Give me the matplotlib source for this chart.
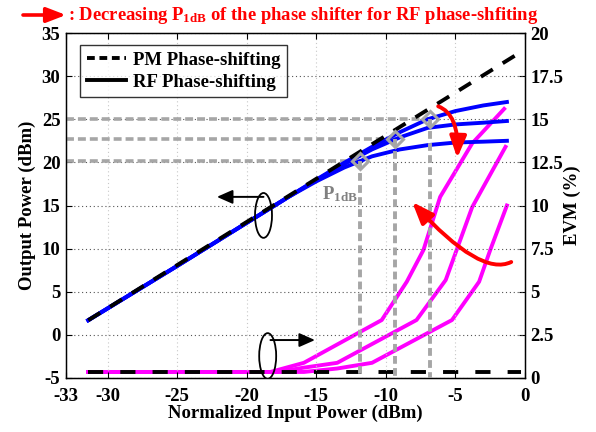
import matplotlib
matplotlib.use("Agg")
import matplotlib.pyplot as plt
from matplotlib.lines import Line2D
from matplotlib.patches import Ellipse, FancyArrowPatch, ArrowStyle
from matplotlib.path import Path

plt.rcParams['font.family'] = ['Liberation Serif', 'DejaVu Serif']
plt.rcParams['font.weight'] = 'bold'
plt.rcParams['axes.unicode_minus'] = False
plt.rcParams['mathtext.fontset'] = 'custom'
plt.rcParams['mathtext.rm'] = 'Liberation Serif:bold'
plt.rcParams['mathtext.bf'] = 'Liberation Serif:bold'
plt.rcParams['mathtext.it'] = 'Liberation Serif:bold'

# ---------------- data ----------------
pm_in = [-31.4, -0.1]
pm_out = [1.7, 33.0]

rf_in = [-31.4, -25, -20, -17, -15, -13, -11, -9, -7, -5, -3, -1.3]
rf_out_1 = [1.7, 8.0, 13.0, 16.0, 17.8, 19.4, 20.7, 21.5, 22.0, 22.3, 22.4, 22.5]
rf_out_2 = [1.7, 8.0, 13.0, 16.0, 17.95, 19.8, 21.5, 22.9, 24.0, 24.4, 24.6, 24.8]
rf_out_3 = [1.7, 8.0, 13.0, 16.0, 18.0, 19.95, 21.8, 23.5, 25.0, 25.95, 26.6, 27.0]

p1db_in = [-11.85, -9.35, -6.8]
p1db_out = [20.2, 22.7, 25.0]

pm_evm_in = [-31.4, -0.3]
pm_evm = [0.33, 0.33]

evm_in_1 = [-31.4, -18.3, -15.9, -10.3, -8.5, -7.3, -6.1, -3.8, -1.5]
evm_1 = [0.35, 0.35, 0.88, 3.36, 5.58, 7.42, 10.5, 13.6, 15.6]
evm_in_2 = [-31.4, -17.8, -15.9, -13.5, -7.8, -5.7, -3.8, -1.4]
evm_2 = [0.35, 0.35, 0.6, 0.88, 3.36, 5.68, 9.9, 13.4]
evm_in_3 = [-31.4, -15.9, -13.5, -11.0, -5.25, -3.3, -2.5, -1.3]
evm_3 = [0.35, 0.35, 0.55, 0.88, 3.36, 5.58, 7.42, 10.0]

x_ticks = [-33, -30, -25, -20, -15, -10, -5, 0]
y_ticks = [-5, 0, 5, 10, 15, 20, 25, 30, 35]
evm_ticks = [0, 2.5, 5, 7.5, 10, 12.5, 15, 17.5, 20]
evm_tick_labels = ['0', '2.5', '5', '7.5', '10', '12.5', '15', '17.5', '20']

# ---------------- figure ----------------
fig = plt.figure(figsize=(5.96, 4.32), dpi=100)
ax = fig.add_axes([66/596, 54/432, 459/596, 345/432])
ax2 = ax.twinx()
ax.set_zorder(ax2.get_zorder() + 1)
ax.patch.set_visible(False)

FS = 13.5
BLUE = '#0000ff'
MAG = '#ff00ff'
GRAY = '#a6a6a6'

# EVM (right axis)
for xi, yi in [(evm_in_1, evm_1), (evm_in_2, evm_2), (evm_in_3, evm_3)]:
    ax2.plot(xi, yi, color=MAG, lw=2.8, zorder=2)
ax2.plot(pm_evm_in, pm_evm, color='black', lw=2.8, linestyle=(0, (3.9, 4.4)), zorder=3)
ax2.set_ylim(0, 20)
ax2.set_yticks(evm_ticks)
ax2.set_yticklabels(evm_tick_labels)
ax2.set_ylabel('EVM (%)', fontsize=FS, fontweight='bold', labelpad=0)
ax2.tick_params(axis='y', direction='in', labelsize=FS, length=4, width=0.8, pad=4)

# Output power (left axis)
for yi in [rf_out_1, rf_out_2, rf_out_3]:
    ax.plot(rf_in, yi, color=BLUE, lw=2.8, zorder=3)
ax.plot(pm_in, pm_out, color='black', lw=2.8, linestyle=(0, (3.6, 3.0)), zorder=4)

# P1dB guide lines and markers
for xi, yi in zip(p1db_in, p1db_out):
    ax.plot([-33, xi], [yi, yi], color=GRAY, lw=2.6, linestyle=(0, (2.2, 1.1)), zorder=2)
    ax.plot([xi, xi], [yi, -5], color=GRAY, lw=2.8, linestyle=(0, (2.0, 1.1)), zorder=5)
ax.plot(p1db_in, p1db_out, linestyle='none', marker='D', markersize=8.5,
        markerfacecolor='none', markeredgecolor=GRAY, markeredgewidth=2.2, zorder=6)
ax.text(-14.6, 16.3, r'P$_{\mathrm{1dB}}$', color='#808080', fontsize=13.5,
        fontweight='bold', ha='left', va='center', zorder=6)

ax.set_xlim(-33, 0)
ax.set_ylim(-5, 35)
ax.set_xticks(x_ticks)
ax.set_yticks(y_ticks)
ax.tick_params(axis='both', direction='in', labelsize=FS, length=4, width=0.8, top=True)
ax.tick_params(axis='x', pad=7)
ax.tick_params(axis='y', pad=4)
ax.set_xlabel('Normalized Input Power (dBm)', fontsize=FS, fontweight='bold', labelpad=0)
ax.set_ylabel('Output Power (dBm)', fontsize=FS, fontweight='bold', labelpad=4)

# grid
ax.xaxis.grid(True, linestyle=(0, (1, 2.5)), color='#c8c8c8', lw=0.8)
ax.yaxis.grid(True, linestyle=(0, (1, 2.5)), color='#555555', lw=0.8)
ax.set_axisbelow(True)
for sp in ax.spines.values():
    sp.set_linewidth(1.0)

# legend
handles = [Line2D([], [], color='black', lw=2.8, linestyle=(0, (2.0, 1.2))),
           Line2D([], [], color='black', lw=2.8)]
leg = ax.legend(handles, ['PM Phase-shifting', 'RF Phase-shifting'],
                loc='upper left', bbox_to_anchor=(0.0305, 0.965), borderaxespad=0,
                fontsize=FS, frameon=True, fancybox=False, handlelength=2.1,
                handletextpad=0.4, labelspacing=0.25, borderpad=0.35)
leg.get_frame().set_edgecolor('black')
leg.get_frame().set_linewidth(1.0)
leg.set_zorder(10)
for t in leg.get_texts():
    t.set_fontweight('bold')

# ellipses and black arrows
ax.add_patch(Ellipse((-18.8, 13.85), 1.22, 5.2, fill=False, edgecolor='black', lw=1.3, zorder=7))
ax.add_patch(Ellipse((-18.5, -2.45), 1.22, 5.3, fill=False, edgecolor='black', lw=1.3, zorder=7))
blk = ArrowStyle('-|>', head_length=0.95, head_width=0.42)
ax.add_patch(FancyArrowPatch((-18.8, 16.0), (-22.15, 16.0), arrowstyle=blk,
                             mutation_scale=10, color='black', lw=1.4, zorder=7,
                             shrinkA=0, shrinkB=0))
ax.add_patch(FancyArrowPatch((-18.3, -0.6), (-15.1, -0.6), arrowstyle=blk,
                             mutation_scale=10, color='black', lw=1.4, zorder=7,
                             shrinkA=0, shrinkB=0))

# red curved arrows
red = ArrowStyle('-|>', head_length=1.3, head_width=0.5)
p1 = Path([(-6.24, 26.5), (-4.75, 25.6), (-4.87, 20.5)], [Path.MOVETO, Path.CURVE3, Path.CURVE3])
ax.add_patch(FancyArrowPatch(path=p1, arrowstyle=red, mutation_scale=10,
                             color='#ff0000', lw=2.8, zorder=8))
p2 = Path([(-0.99, 8.45), (-3.2, 6.7), (-8.11, 15.4)], [Path.MOVETO, Path.CURVE3, Path.CURVE3])
ax.add_patch(FancyArrowPatch(path=p2, arrowstyle=red, mutation_scale=10,
                             color='#ff0000', lw=2.8, zorder=8))

# header
fig.patches.append(FancyArrowPatch((23/596, 1 - 15/432), (66/596, 1 - 15/432),
                                   transform=fig.transFigure, arrowstyle=red,
                                   mutation_scale=9, color='#ff0000', lw=2.6,
                                   shrinkA=0, shrinkB=0))
fig.text(68/596, 1 - 15/432, r': Decreasing P$_{\mathrm{1dB}}$ of the phase shifter for RF phase-shfiting',
         color='#ff0000', fontsize=13.4, fontweight='bold', ha='left', va='center')

fig.savefig('out.png', dpi=100)
